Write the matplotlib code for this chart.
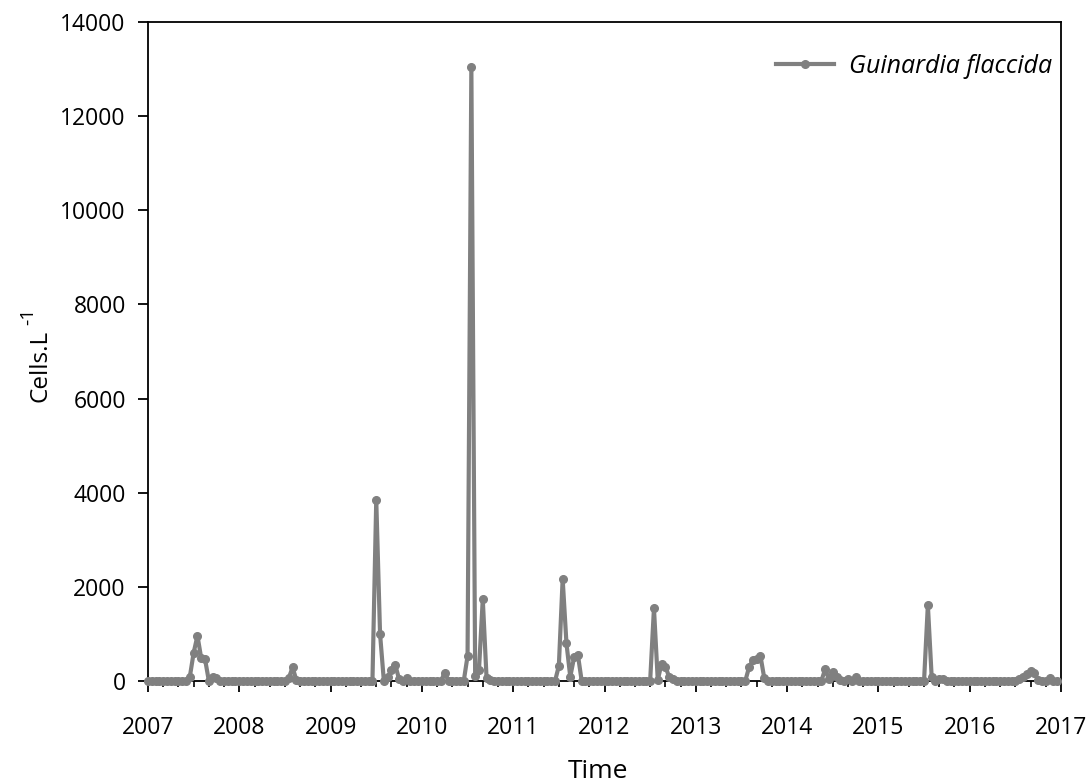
import numpy as np
import matplotlib.pyplot as plt
from matplotlib.ticker import MultipleLocator

# Guinardia flaccida abundance, semi-monthly samples (24 per year)
years = [2007, 2008, 2009, 2010, 2011, 2012, 2013, 2014, 2015, 2016]
v2007 = [0, 0, 0, 0, 0, 0, 0, 0, 0, 0, 0, 90, 600, 960, 480, 460, 0, 90, 70, 0, 0, 0, 0, 0]
v2008 = [0, 0, 0, 0, 0, 0, 0, 0, 0, 0, 0, 0, 0, 60, 290, 20, 0, 0, 0, 0, 0, 0, 0, 0]
v2009 = [0, 0, 0, 0, 0, 0, 0, 0, 0, 0, 0, 0, 3845, 1000, 0, 80, 230, 340, 40, 0, 60, 0, 0, 0]
v2010 = [0, 0, 0, 0, 0, 0, 175, 0, 0, 0, 0, 0, 530, 13050, 100, 230, 1740, 60, 30, 0, 0, 0, 0, 0]
v2011 = [0, 0, 0, 0, 0, 0, 0, 0, 0, 0, 0, 0, 320, 2170, 800, 90, 500, 560, 0, 0, 0, 0, 0, 0]
v2012 = [0, 0, 0, 0, 0, 0, 0, 0, 0, 0, 0, 0, 0, 1545, 20, 370, 300, 90, 40, 0, 0, 0, 0, 0]
v2013 = [0, 0, 0, 0, 0, 0, 0, 0, 0, 0, 0, 0, 0, 0, 290, 445, 460, 530, 60, 0, 0, 0, 0, 0]
v2014 = [0, 0, 0, 0, 0, 0, 0, 0, 0, 0, 250, 40, 190, 80, 30, 0, 50, 0, 90, 0, 0, 0, 0, 0]
v2015 = [0, 0, 0, 0, 0, 0, 0, 0, 0, 0, 0, 0, 0, 1615, 90, 0, 50, 40, 0, 0, 0, 0, 0, 0]
v2016 = [0, 0, 0, 0, 0, 0, 0, 0, 0, 0, 0, 0, 0, 40, 90, 140, 220, 170, 30, 0, 0, 60, 0, 0]

yearly = [v2007, v2008, v2009, v2010, v2011, v2012, v2013, v2014, v2015, v2016]

t = []
cells = []
for yr, vals in zip(years, yearly):
    for i, v in enumerate(vals):
        t.append(yr + i / 24.0)
        cells.append(v)
t = np.array(t)
cells = np.array(cells)

W, H = 1086, 783
fig = plt.figure(figsize=(W / 100, H / 100), dpi=100)
ax = fig.add_axes([148 / W, 1 - 681 / H, 913 / W, 659 / H])

ax.plot(t, cells, color='#808080', lw=3.0, marker='o', ms=5.5,
        label='Guinardia flaccida', clip_on=False, zorder=5)

ax.set_xlim(2007, 2017)
ax.set_ylim(0, 14000)
ax.set_xticks(range(2007, 2018))
ax.xaxis.set_minor_locator(MultipleLocator(1 / 6.0))
ax.set_yticks(range(0, 14001, 2000))

ax.tick_params(axis='both', which='major', direction='out', width=1.3,
               labelsize=16.5, color='black')
ax.tick_params(axis='x', which='major', length=8, pad=17)
ax.tick_params(axis='y', which='major', length=7, pad=9)
ax.tick_params(axis='x', which='minor', direction='out', length=4, width=1.2)
for lab in ax.get_xticklabels() + ax.get_yticklabels():
    lab.set_fontfamily('Open Sans')

for s in ax.spines.values():
    s.set_linewidth(1.3)
    s.set_color('black')

# axis titles
fig.text(598 / W, 1 - 771 / H, 'Time', fontsize=19, family='Open Sans',
         ha='center', va='center')
fig.text(41 / W, 1 - 366 / H, 'Cells.L', fontsize=17.5, family='Open Sans',
         rotation=90, ha='center', va='center')
fig.text(28 / W, 1 - 316 / H, '-1', fontsize=14, family='Open Sans',
         rotation=90, ha='center', va='center')

leg = ax.legend(loc='center right', frameon=False, handlelength=2.3,
                handletextpad=0.6, borderpad=0, borderaxespad=0,
                prop={'family': 'Open Sans', 'style': 'italic', 'size': 18},
                bbox_to_anchor=(0.99, 0.933))

fig.savefig('out.png', dpi=100)
